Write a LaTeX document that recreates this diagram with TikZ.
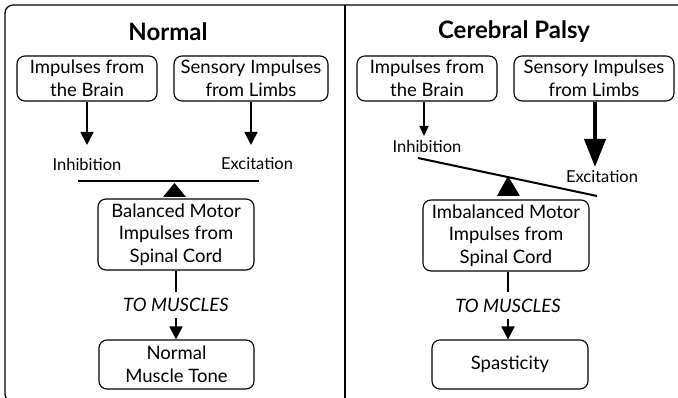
\documentclass[tikz,border=0pt]{standalone}
\usepackage{fontspec}
\setmainfont{Lato}
\usetikzlibrary{arrows.meta}
\tikzset{
  box/.style={draw, line width=1.1pt, rounded corners=8pt, align=center, inner sep=0pt,
    font=\fontsize{18.5}{22.5}\selectfont},
  lbl/.style={inner sep=0pt, font=\fontsize{16.5}{19}\selectfont},
  ttl/.style={inner sep=0pt, font=\fontsize{24}{27}\selectfont\bfseries},
  arr/.style={line width=1.8pt, -{Triangle[width=13pt,length=13pt]}},
  thinarr/.style={line width=1.4pt, -{Triangle[width=9pt,length=10pt]}},
  thickarr/.style={line width=4pt, -{Triangle[width=21pt,length=28pt]}},
  beam/.style={line width=2pt},
  mus/.style={fill=white, inner xsep=3pt, inner ysep=6.5pt, font=\fontsize{18.5}{21}\selectfont\itshape}
}
\begin{document}
\begin{tikzpicture}[x=1pt,y=-1pt]
\useasboundingbox (0,0) rectangle (678,398);
\begin{scope}
\clip (0,0) rectangle (678,398);
\draw[line width=1.3pt, rounded corners=8pt] (5,5) rectangle (700,402);
\end{scope}
\draw[line width=1.3pt] (345,5) -- (345,398);

% ---------- Normal ----------
\node[ttl] (tN) at (168,32) {Normal};
\node[box, minimum width=140pt, minimum height=45pt] (bN) at (87,78.5) {Impulses from\\the Brain};
\node[box, minimum width=154pt, minimum height=45pt] (sN) at (251,78.5) {Sensory Impulses\\from Limbs};
\coordinate (inhNt) at (87,145);
\coordinate (excNt) at (251,145);
\draw[arr] (bN.south) -- (inhNt);
\draw[arr] (sN.south) -- (excNt);
\node[lbl] (inhN) at (87,164) {Inhibition};
\node[lbl] (excN) at (257,164) {Excitation};
\coordinate (beamNa) at (78,181);
\coordinate (beamNb) at (259,181);
\draw[beam] (beamNa) -- (beamNb);
\fill (174.5,183) -- (186,197) -- (163,197) -- cycle;
\node[box, minimum width=156pt, minimum height=71pt] (mN) at (176,234.5) {Balanced Motor\\Impulses from\\Spinal Cord};
\node[box, minimum width=155pt, minimum height=49pt] (oN) at (176.5,364.5) {Normal\\Muscle Tone};
\draw[arr] (mN.south) -- node[mus] (toN) {TO MUSCLES} (mN.south |- oN.north);

% ---------- Cerebral Palsy ----------
\node[ttl] (tC) at (514,32) {Cerebral Palsy};
\node[box, minimum width=140pt, minimum height=45pt] (bC) at (427,78.5) {Impulses from\\the Brain};
\node[box, minimum width=160pt, minimum height=45pt] (sC) at (594,78.5) {Sensory Impulses\\from Limbs};
\coordinate (inhCt) at (424,136);
\coordinate (excCt) at (595,167);
\draw[thinarr] (bC.south -| inhCt) -- (inhCt);
\draw[thickarr] (sC.south -| excCt) -- (excCt);
\node[lbl] (inhC) at (427,146) {Inhibition};
\node[lbl] (excC) at (602,177) {Excitation};
\coordinate (beamCa) at (418,158);
\coordinate (beamCb) at (597,196);
\draw[beam] (beamCa) -- (beamCb);
\fill (508,176) -- (520,196) -- (497,196) -- cycle;
\node[box, minimum width=166pt, minimum height=71pt] (mC) at (506,235.5) {Imbalanced Motor\\Impulses from\\Spinal Cord};
\node[box, minimum width=156pt, minimum height=49pt] (oC) at (510,364.5) {Spasticity};
\draw[arr] (mC.south -| 508,0) -- node[mus] (toC) {TO MUSCLES} (oC.north -| 508,0);
\end{tikzpicture}
\end{document}
